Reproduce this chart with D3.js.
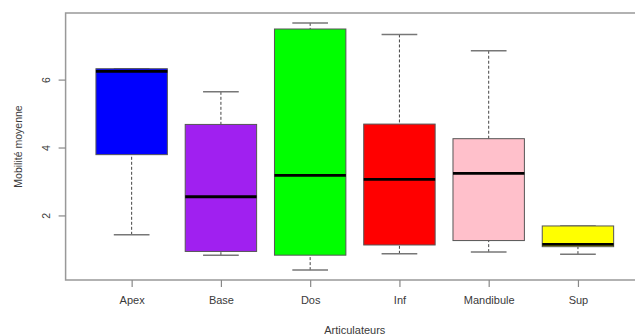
<!DOCTYPE html>
<html>
<head>
<meta charset="utf-8">
<script src="https://cdn.jsdelivr.net/npm/d3@7"></script>
<style>
  html, body { margin: 0; padding: 0; background: #fff; }
  svg { display: block; }
  text { font-family: "Liberation Sans", Arial, sans-serif; fill: #3a3a3a; }
</style>
</head>
<body>
<svg id="chart" width="635" height="335"></svg>
<script>
// Mobility summaries per articulator (boxplot five-number summaries)
const categories = ["Apex", "Base", "Dos", "Inf", "Mandibule", "Sup"];
const whiskerLow = [1.43, 0.83, 0.39, 0.87, 0.92, 0.86];
const q1         = [3.79, 0.94, 0.83, 1.13, 1.26, 1.08];
const median     = [6.24, 2.55, 3.18, 3.06, 3.24, 1.15];
const q3         = [6.32, 4.68, 7.49, 4.69, 4.26, 1.69];
const whiskerHigh= [6.32, 5.64, 7.67, 7.33, 6.85, 1.69];
const fills      = ["#0000ff", "#a020f0", "#00ff00", "#ff0000", "#ffc0cb", "#ffff00"];
const yTicks     = [2, 4, 6];
const xTitle = "Articulateurs";
const yTitle = "Mobilité moyenne";

const svg = d3.select("#chart");

// Plot region; x runs 0.26..6.74 so the frame's right edge falls past the window
const plot = { left: 65.6, right: 644, top: 13, bottom: 280 };

const lo = d3.min(whiskerLow), hi = d3.max(whiskerHigh);
const pad = (hi - lo) * 0.04;
const y = d3.scaleLinear().domain([lo - pad, hi + pad]).range([plot.bottom, plot.top]);
const n = categories.length;
const xpad = n * 0.04;
const x = d3.scaleLinear().domain([0.5 - xpad, n + 0.5 + xpad]).range([plot.left, plot.right]);

const data = categories.map((c, i) => ({
  name: c, pos: i + 1, lo: whiskerLow[i], q1: q1[i], med: median[i],
  q3: q3[i], hi: whiskerHigh[i], fill: fills[i]
}));

const boxHalf = 0.4, capHalf = 0.2;
const g = svg.append("g");

// whiskers (dashed)
g.selectAll("line.wlo").data(data).join("line")
  .attr("x1", d => x(d.pos)).attr("x2", d => x(d.pos))
  .attr("y1", d => y(d.lo)).attr("y2", d => y(d.q1))
  .attr("stroke", "#444").attr("stroke-width", 1).attr("stroke-dasharray", "3,2");
g.selectAll("line.whi").data(data).join("line")
  .attr("x1", d => x(d.pos)).attr("x2", d => x(d.pos))
  .attr("y1", d => y(d.hi)).attr("y2", d => y(d.q3))
  .attr("stroke", "#444").attr("stroke-width", 1).attr("stroke-dasharray", "3,2");

// whisker caps
["lo", "hi"].forEach(k => {
  g.selectAll(null).data(data).join("line")
    .attr("x1", d => x(d.pos - capHalf)).attr("x2", d => x(d.pos + capHalf))
    .attr("y1", d => y(d[k])).attr("y2", d => y(d[k]))
    .attr("stroke", "#777").attr("stroke-width", 1.5);
});

// boxes
g.selectAll("rect.box").data(data).join("rect")
  .attr("x", d => x(d.pos - boxHalf))
  .attr("width", d => x(d.pos + boxHalf) - x(d.pos - boxHalf))
  .attr("y", d => y(d.q3))
  .attr("height", d => y(d.q1) - y(d.q3))
  .attr("fill", d => d.fill)
  .attr("stroke", "#555").attr("stroke-width", 1);

// medians
g.selectAll("line.med").data(data).join("line")
  .attr("x1", d => x(d.pos - boxHalf)).attr("x2", d => x(d.pos + boxHalf))
  .attr("y1", d => y(d.med)).attr("y2", d => y(d.med))
  .attr("stroke", "#000").attr("stroke-width", 2.8);

// frame
svg.append("rect")
  .attr("x", plot.left).attr("y", plot.top)
  .attr("width", plot.right - plot.left).attr("height", plot.bottom - plot.top)
  .attr("fill", "none").attr("stroke", "#999").attr("stroke-width", 1.5);

// y axis
const yAxis = svg.append("g").attr("transform", `translate(${plot.left},0)`)
  .call(d3.axisLeft(y).tickValues(yTicks).tickSize(7).tickPadding(0).tickFormat(d3.format("d")));
yAxis.select(".domain").remove();
yAxis.selectAll(".tick line").attr("stroke", "#888").attr("stroke-width", 1.2);
yAxis.selectAll(".tick text")
  .attr("x", -20).attr("dy", 0).attr("dominant-baseline", "central")
  .attr("text-anchor", "middle").attr("transform", "rotate(-90)")
  .style("font-size", "10.5px")
  .each(function() {
    // rotate each label about its own position
    const t = d3.select(this);
    t.attr("transform", "translate(-20,0) rotate(-90)").attr("x", 0);
  });

// x axis
const xAxis = svg.append("g").attr("transform", `translate(0,${plot.bottom})`)
  .call(d3.axisBottom(x).tickValues(data.map(d => d.pos)).tickSize(7).tickPadding(9)
    .tickFormat((d, i) => categories[i]));
xAxis.select(".domain").remove();
xAxis.selectAll(".tick line").attr("stroke", "#888").attr("stroke-width", 1.2);
xAxis.selectAll(".tick text").style("font-size", "11px").attr("fill", "#3a3a3a");

// axis titles
svg.append("text")
  .attr("x", (plot.left + plot.right) / 2).attr("y", 334)
  .attr("text-anchor", "middle").style("font-size", "11px").text(xTitle);
svg.append("text")
  .attr("transform", `translate(18,${(plot.top + plot.bottom) / 2}) rotate(-90)`)
  .attr("text-anchor", "middle").attr("dominant-baseline", "central")
  .style("font-size", "10.5px").text(yTitle);
</script>
</body>
</html>
